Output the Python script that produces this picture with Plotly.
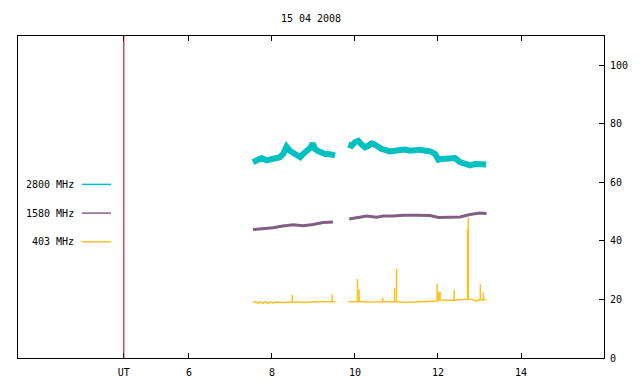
import plotly.graph_objects as go

# ---- data (hours UT, solar flux units) ----
t2800_a = [7.54, 7.63, 7.75, 7.87, 7.99, 8.11, 8.19, 8.27, 8.35, 8.43, 8.51, 8.60, 8.68, 8.75,
           8.84, 8.92, 8.98, 9.04, 9.12, 9.20, 9.28, 9.36, 9.44, 9.52]
v2800_a = [66.9, 67.5, 68.3, 67.5, 67.8, 68.0, 68.6, 69.7, 72.2, 70.8, 70.0, 69.7, 68.6, 69.7,
           70.6, 71.7, 73.3, 71.4, 70.6, 69.9, 69.7, 69.7, 69.5, 69.2]
t2800_b = [9.84, 9.92, 10.00, 10.08, 10.16, 10.24, 10.32, 10.40, 10.48, 10.56, 10.64, 10.72,
           10.84, 10.96, 11.08, 11.20, 11.33, 11.45, 11.57, 11.69, 11.81, 11.93, 12.01, 12.09,
           12.17, 12.29, 12.41, 12.53, 12.65, 12.77, 12.89, 13.01, 13.16]
v2800_b = [72.9, 72.5, 73.7, 74.2, 72.9, 72.0, 72.5, 73.3, 72.9, 72.0, 71.4, 71.1,
           70.6, 70.8, 71.1, 71.2, 70.8, 71.1, 71.1, 70.8, 70.6, 69.7, 67.7, 68.0,
           68.2, 68.0, 68.3, 66.9, 66.1, 65.8, 66.3, 66.3, 66.1]

t1580_a = [7.54, 7.78, 8.02, 8.26, 8.51, 8.75, 8.99, 9.23, 9.47]
v1580_a = [43.9, 44.2, 44.5, 45.1, 45.5, 45.2, 45.6, 46.3, 46.5]
t1580_b = [9.86, 10.04, 10.28, 10.52, 10.68, 10.92, 11.16, 11.48, 11.81, 12.01, 12.29,
           12.53, 12.77, 13.01, 13.17]
v1580_b = [47.5, 47.9, 48.5, 48.1, 48.5, 48.5, 48.8, 48.8, 48.7, 48.0, 48.0,
           48.2, 49.0, 49.5, 49.4]

t403_a = [7.54, 7.60, 7.66, 7.72, 7.78, 7.84, 7.90, 7.96, 8.02, 8.10, 8.25, 8.40, 8.60,
          8.80, 9.00, 9.20, 9.40, 9.52]
v403_a = [19.1, 19.3, 18.7, 19.2, 18.6, 19.3, 18.6, 19.2, 18.8, 19.1, 19.0, 19.2, 19.1,
          19.0, 19.2, 19.1, 19.2, 19.1]
t403_b = [9.84, 10.00, 10.30, 10.60, 10.90, 11.20, 11.50, 11.80, 11.97, 12.02, 12.30,
          12.50, 12.70, 12.85, 12.90, 13.00, 13.16]
v403_b = [19.2, 19.3, 19.1, 19.2, 19.2, 19.0, 19.2, 19.2, 19.4, 19.8, 19.7,
          19.9, 20.1, 20.0, 19.4, 19.9, 20.0]

spike_t = [8.49, 9.45, 10.06, 10.10, 10.67, 10.95, 11.00, 11.98, 12.01, 12.05, 12.39,
           12.71, 12.73, 13.02, 13.09]
spike_peak = [21.5, 21.7, 27.1, 23.4, 20.6, 24.0, 30.5, 25.4, 22.5, 22.8, 23.4,
              44.1, 47.9, 25.1, 22.5]
spike_base = [19.1, 19.2, 19.3, 19.3, 19.2, 19.2, 19.2, 19.5, 19.8, 19.8, 19.7,
              20.1, 20.1, 20.0, 19.9]

series_names = ["2800 MHz", "1580 MHz", "403 MHz"]
series_colors = ["#00C0C0", "#806080", "#FFC020"]
legend_y = [59.3, 49.5, 39.7]

x_tickvals = [4.43, 6, 8, 10, 12, 14]
x_ticktext = ["UT", "6", "8", "10", "12", "14"]
y_tickvals = [0, 20, 40, 60, 80, 100]
ut_marker = 4.43
title_text = "15 04 2008"


def join(ta, va, tb, vb):
    return ta + [None] + tb, va + [None] + vb


def with_spikes(t, v, lo, hi):
    pts = [(ti, vi) for ti, vi in zip(t, v)]
    for st, sp, sb in zip(spike_t, spike_peak, spike_base):
        if lo <= st <= hi:
            pts += [(st, sb), (st, sp), (st, sb)]
    pts.sort(key=lambda p: p[0])
    return [p[0] for p in pts], [p[1] for p in pts]


FONT = "DejaVu Sans Mono"
fig = go.Figure()

x1, y1 = join(t2800_a, v2800_a, t2800_b, v2800_b)
fig.add_trace(go.Scatter(x=x1, y=y1, mode="lines", line=dict(color=series_colors[0], width=6),
                         connectgaps=False, showlegend=False))
x2, y2 = join(t1580_a, v1580_a, t1580_b, v1580_b)
fig.add_trace(go.Scatter(x=x2, y=y2, mode="lines", line=dict(color=series_colors[1], width=3),
                         connectgaps=False, showlegend=False))
xa, ya = with_spikes(t403_a, v403_a, 0, 9.7)
xb, yb = with_spikes(t403_b, v403_b, 9.7, 24)
x3, y3 = join(xa, ya, xb, yb)
fig.add_trace(go.Scatter(x=x3, y=y3, mode="lines", line=dict(color=series_colors[2], width=1.5),
                         connectgaps=False, showlegend=False))

# UT marker line
fig.add_shape(type="line", xref="x", yref="paper", x0=ut_marker, x1=ut_marker, y0=0, y1=1,
              line=dict(color="#990000", width=1))

# custom key
for name, col, ly in zip(series_names, series_colors, legend_y):
    fig.add_shape(type="line", xref="x", yref="y", x0=3.42, x1=4.12, y0=ly, y1=ly,
                  line=dict(color=col, width=1.5))
    fig.add_annotation(x=3.27, y=ly, xref="x", yref="y", text=name, showarrow=False,
                       xanchor="right", yanchor="middle", font=dict(family=FONT, size=10, color="black"))

fig.update_layout(
    width=640, height=384,
    margin=dict(l=10, r=44, t=28, b=34),
    paper_bgcolor="white", plot_bgcolor="white",
    title=dict(text=title_text, x=0.5, xref="paper", y=1 - 10 / 384, yref="container",
               yanchor="middle", xanchor="center", font=dict(family=FONT, size=10, color="black")),
    font=dict(family=FONT, size=10, color="black"),
)
fig.update_xaxes(range=[1.88, 16.0], tickvals=x_tickvals, ticktext=x_ticktext,
                 ticks="inside", ticklen=5, tickcolor="black", showline=True, linecolor="black",
                 linewidth=1, mirror="ticks", showgrid=False, zeroline=False,
                 ticklabelstandoff=5, tickfont=dict(family=FONT, size=10))
fig.update_yaxes(range=[0, 110], tickvals=y_tickvals, side="right", ticks="inside", ticklen=5,
                 tickcolor="black", showline=True, linecolor="black", linewidth=1, mirror=True,
                 showgrid=False, zeroline=False, ticklabelstandoff=3,
                 tickfont=dict(family=FONT, size=10))

fig.write_html("out.html")
